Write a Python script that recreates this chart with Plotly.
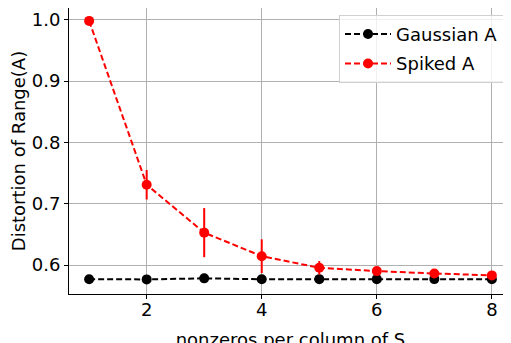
import plotly.graph_objects as go

nnz = [1, 2, 3, 4, 5, 6, 7, 8]
gauss_mean = [0.577, 0.5768, 0.5785, 0.5770, 0.5772, 0.5772, 0.5773, 0.5770]
gauss_err = [0.001, 0.001, 0.001, 0.001, 0.001, 0.001, 0.001, 0.001]
spiked_mean = [0.998, 0.731, 0.653, 0.6146, 0.5957, 0.5903, 0.5865, 0.5833]
spiked_err = [0.0, 0.024, 0.040, 0.0275, 0.011, 0.004, 0.003, 0.002]

FONT = "DejaVu Sans"

fig = go.Figure()
fig.add_trace(go.Scatter(
    x=nnz, y=gauss_mean, name="Gaussian A", mode="lines+markers",
    legendgroup="g",
    line=dict(color="black", width=2, dash="6px,3px"),
    marker=dict(color="black", size=10),
    error_y=dict(type="data", array=gauss_err, color="black", thickness=2, width=0),
))
fig.add_trace(go.Scatter(
    x=nnz, y=spiked_mean, name="Spiked A", mode="lines+markers",
    legendgroup="s",
    line=dict(color="red", width=2, dash="6px,3px"),
    marker=dict(color="red", size=10),
    error_y=dict(type="data", array=spiked_err, color="red", thickness=2, width=0),
))

axis_common = dict(
    showline=True, linecolor="black", linewidth=1, mirror=True,
    ticks="outside", ticklen=4, tickcolor="black",
    showgrid=True, gridcolor="#b0b0b0", gridwidth=1, zeroline=False,
    tickfont=dict(family=FONT, size=18, color="black"),
    automargin=False,
)

fig.update_layout(
    width=511, height=343,
    margin=dict(l=61, r=7, t=0, b=57),
    paper_bgcolor="white", plot_bgcolor="white",
    font=dict(family=FONT, size=18, color="black"),
    xaxis=dict(range=[0.65, 8.35], tickvals=[2, 4, 6, 8],
               ticklabelstandoff=-5,
               title=dict(text="nonzeros per column of S", standoff=14,
                          font=dict(family=FONT, size=18)),
               **axis_common),
    yaxis=dict(range=[0.553, 1.019], tickvals=[0.6, 0.7, 0.8, 0.9, 1.0],
               tickformat=".1f",
               title=dict(text="Distortion of Range(A)", standoff=4,
                          font=dict(family=FONT, size=18)),
               **axis_common),
    legend=dict(x=0.982, y=0.976, xanchor="right", yanchor="top",
                bgcolor="rgba(255,255,255,0.8)", bordercolor="#d0d0d0", borderwidth=1,
                itemwidth=46, tracegroupgap=3,
                font=dict(family=FONT, size=18)),
    showlegend=True,
)

fig.write_html("out.html")
